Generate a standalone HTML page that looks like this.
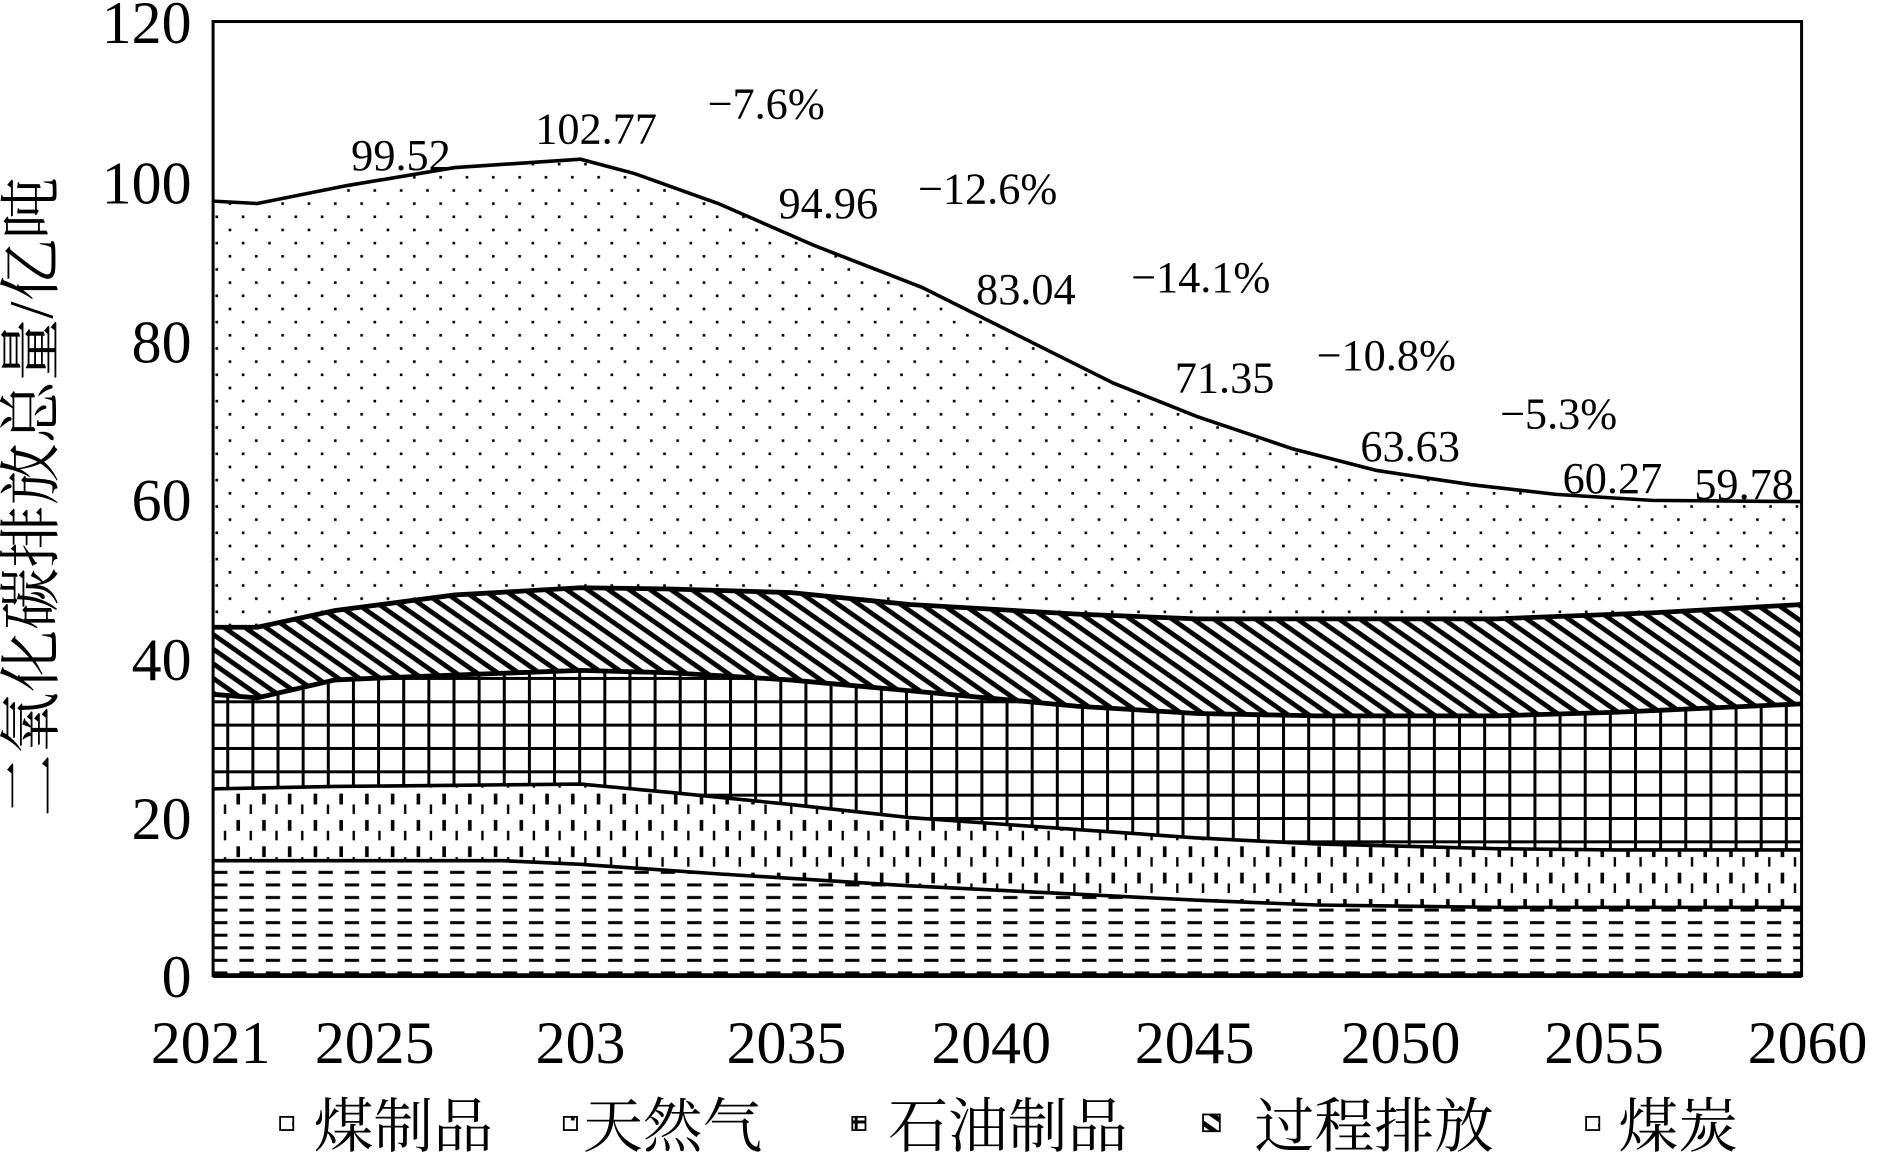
<!DOCTYPE html>
<html><head><meta charset="utf-8"><style>html,body{margin:0;padding:0;background:#fff}svg{display:block}</style></head>
<body>
<svg width="1877" height="1162" viewBox="0 0 1568 970.7" preserveAspectRatio="none" xmlns="http://www.w3.org/2000/svg">
<defs>
<pattern id="dots" width="22" height="22" patternUnits="userSpaceOnUse"><rect x="4" y="4" width="2.2" height="2.2" fill="#000"/><rect x="15" y="15" width="2.2" height="2.2" fill="#000"/></pattern>
<pattern id="hatch" width="10" height="10" patternUnits="userSpaceOnUse" patternTransform="rotate(35)"><rect x="0" y="0" width="10" height="4" fill="#000"/></pattern>
<pattern id="grid" width="21" height="19.5" patternUnits="userSpaceOnUse"><rect x="0" y="0" width="2.5" height="19.5" fill="#000"/><rect x="0" y="0" width="21" height="2.5" fill="#000"/></pattern>
<pattern id="vd" width="21.5" height="22" patternUnits="userSpaceOnUse"><rect x="4" y="3" width="3" height="9" fill="#000"/><rect x="15" y="12" width="2" height="8" fill="#000"/></pattern>
<pattern id="hd" width="22" height="10.5" patternUnits="userSpaceOnUse"><rect x="2" y="3" width="12" height="2.5" fill="#000"/></pattern>
</defs>
<rect width="1568" height="971" fill="#fff"/>
<path d="M178,168 L215,170 L290,155 L380,140 L485,133 L530,145 L600,170 L680,205 L770,240 L850,280 L930,320 L1000,348 L1080,375 L1150,393 L1230,405 L1300,413 L1380,418 L1505,419 L1505,505 L1380,512 L1300,515 L1250,517 L1000,517 L900,513 L760,505 L660,495 L560,492 L485,491 L380,497 L280,510 L215,524 L178,524 Z" fill="url(#dots)"/>
<path d="M178,524 L215,524 L280,510 L380,497 L485,491 L560,492 L660,495 L760,505 L900,513 L1000,517 L1250,517 L1300,515 L1380,512 L1505,505 L1505,588 L1350,595 L1250,598 L1100,598 L1000,596 L900,590 L760,577 L660,568 L560,562 L485,560 L350,565 L280,568 L215,583 L178,580 Z" fill="url(#hatch)"/>
<path d="M178,580 L215,583 L280,568 L350,565 L485,560 L560,562 L660,568 L760,577 L900,590 L1000,596 L1100,598 L1250,598 L1350,595 L1505,588 L1505,710 L1350,710 L1250,709 L1100,705 L1000,700 L900,693 L760,683 L660,672 L560,662 L485,655 L380,656 L280,657 L178,659 Z" fill="url(#grid)"/>
<path d="M178,659 L280,657 L380,656 L485,655 L560,662 L660,672 L760,683 L900,693 L1000,700 L1100,705 L1250,709 L1350,710 L1505,710 L1505,758 L1250,758 L1100,756 L1000,752 L900,747 L760,740 L600,730 L485,722 L420,719 L178,719 Z" fill="url(#vd)"/>
<path d="M178,719 L420,719 L485,722 L600,730 L760,740 L900,747 L1000,752 L1100,756 L1250,758 L1505,758 L1505,815 L178,815 Z" fill="url(#hd)"/>
<g fill="none" stroke="#000" stroke-width="3">
<path d="M178,168 L215,170 L290,155 L380,140 L485,133 L530,145 L600,170 L680,205 L770,240 L850,280 L930,320 L1000,348 L1080,375 L1150,393 L1230,405 L1300,413 L1380,418 L1505,419"/>
<path stroke-width="4" d="M178,524 L215,524 L280,510 L380,497 L485,491 L560,492 L660,495 L760,505 L900,513 L1000,517 L1250,517 L1300,515 L1380,512 L1505,505"/>
<path stroke-width="4" d="M178,580 L215,583 L280,568 L350,565 L485,560 L560,562 L660,568 L760,577 L900,590 L1000,596 L1100,598 L1250,598 L1350,595 L1505,588"/>
<path d="M178,659 L280,657 L380,656 L485,655 L560,662 L660,672 L760,683 L900,693 L1000,700 L1100,705 L1250,709 L1350,710 L1505,710"/>
<path d="M178,719 L420,719 L485,722 L600,730 L760,740 L900,747 L1000,752 L1100,756 L1250,758 L1505,758"/>
<rect x="178" y="18" width="1327" height="797" stroke-width="2.5"/>
<line x1="178" y1="815" x2="1505" y2="815" stroke-width="4"/>
</g>
<g font-family="Liberation Serif, serif" font-size="50" text-anchor="end" fill="#000">
<text x="160" y="36">120</text><text x="160" y="170">100</text><text x="160" y="303">80</text><text x="160" y="435">60</text><text x="160" y="568">40</text><text x="160" y="701">20</text><text x="160" y="833">0</text>
</g>
<g font-family="Liberation Serif, serif" font-size="50" text-anchor="middle" fill="#000">
<text x="176" y="888">2021</text><text x="313" y="888">2025</text><text x="485" y="888">203</text><text x="657" y="888">2035</text><text x="828" y="888">2040</text><text x="998" y="888">2045</text><text x="1170" y="888">2050</text><text x="1340" y="888">2055</text><text x="1510" y="888">2060</text>
</g>
<g font-family="Liberation Serif, serif" font-size="37" text-anchor="middle" fill="#000">
<text x="335" y="142">99.52</text><text x="498" y="120">102.77</text><text x="640" y="99">−7.6%</text><text x="692" y="182">94.96</text><text x="825" y="170">−12.6%</text><text x="857" y="254">83.04</text><text x="1003" y="244">−14.1%</text><text x="1023" y="328">71.35</text><text x="1158" y="309">−10.8%</text><text x="1178" y="385">63.63</text><text x="1302" y="358">−5.3%</text><text x="1347" y="412">60.27</text><text x="1457" y="417">59.78</text>
</g>
<text transform="translate(44,415) rotate(-90)" font-family="Liberation Serif, 'Noto Serif CJK SC', serif" font-size="52" text-anchor="middle">二氧化碳排放总量/亿吨</text>
<g font-family="Liberation Serif, 'Noto Serif CJK SC', serif" font-size="50" fill="#000">
<rect x="234" y="933" width="11" height="11" fill="url(#hd)" stroke="#000" stroke-width="1.5"/><text x="262" y="958">煤制品</text>
<rect x="471" y="933" width="11" height="11" fill="url(#vd)" stroke="#000" stroke-width="1.5"/><text x="487" y="958">天然气</text>
<rect x="712" y="933" width="11" height="11" fill="url(#grid)" stroke="#000" stroke-width="1.5"/><text x="742" y="958">石油制品</text>
<rect x="1005" y="931" width="14" height="14" fill="url(#hatch)" stroke="#000" stroke-width="1.5"/><text x="1048" y="958">过程排放</text>
<rect x="1325" y="933" width="11" height="11" fill="url(#dots)" stroke="#000" stroke-width="1.5"/><text x="1352" y="958">煤炭</text>
</g>
</svg>
</body></html>
